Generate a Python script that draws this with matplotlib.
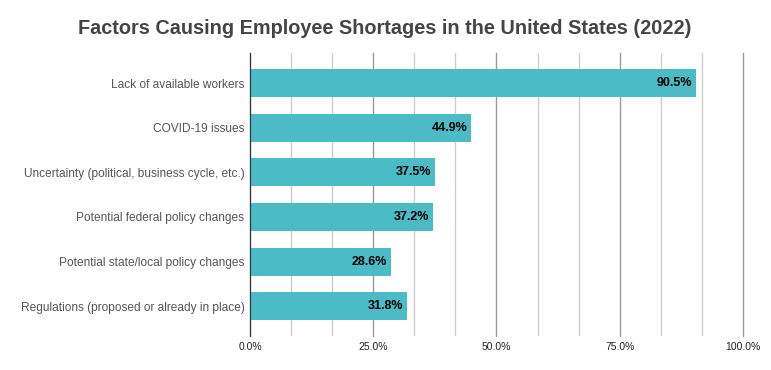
import matplotlib.pyplot as plt
from matplotlib.ticker import MultipleLocator, FuncFormatter

plt.rcParams['font.family'] = ['Liberation Sans', 'DejaVu Sans']

categories = [
    "Lack of available workers",
    "COVID-19 issues",
    "Uncertainty (political, business cycle, etc.)",
    "Potential federal policy changes",
    "Potential state/local policy changes",
    "Regulations (proposed or already in place)",
]
values = [90.5, 44.9, 37.5, 37.2, 28.6, 31.8]
x_ticks = [0, 25, 50, 75, 100]

fig = plt.figure(figsize=(7.71, 3.70), dpi=100)
ax = fig.add_axes([250 / 771, 1 - 336 / 370, 493 / 771, 283.5 / 370])

pos = list(range(len(categories)))
ax.barh(pos, values, height=0.63, color='#4bbcc6', zorder=3)

for y, v in zip(pos, values):
    ax.text(v - 0.8, y, f"{v:.1f}%", ha='right', va='center',
            fontsize=9, fontweight='bold', color='black', zorder=4)

ax.set_xlim(0, 100)
ax.set_ylim(5.67, -0.69)
ax.set_xticks(x_ticks)
ax.xaxis.set_major_formatter(FuncFormatter(lambda v, p: f"{v:.1f}%"))
ax.xaxis.set_minor_locator(MultipleLocator(100 / 12))
ax.set_yticks(pos)
ax.set_yticklabels(categories)

ax.grid(axis='x', which='major', color='#999999', linewidth=1, zorder=0)
ax.grid(axis='x', which='minor', color='#cccccc', linewidth=1, zorder=0)
for line in ax.get_xgridlines():
    line.set_clip_on(False)
for s in ['top', 'right', 'bottom']:
    ax.spines[s].set_visible(False)
ax.spines['left'].set_color('#333333')
ax.spines['left'].set_zorder(5)

ax.tick_params(axis='x', which='both', length=0, labelsize=7.5, colors='#222222', pad=4)
ax.tick_params(axis='y', length=0, labelsize=8.6, labelcolor='#555555', pad=4)

fig.text(385 / 771, 1 - 28 / 370, "Factors Causing Employee Shortages in the United States (2022)",
         ha='center', va='center', fontsize=14.3, fontweight='bold', color='#444444')

fig.savefig('out.png', dpi=100)
